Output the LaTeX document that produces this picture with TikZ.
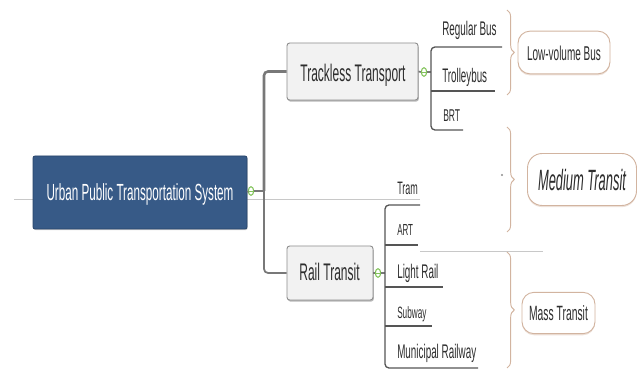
\documentclass[tikz,border=0pt]{standalone}
\usepackage{fontspec}
\setmainfont{Liberation Sans}
\newfontfamily\narrowfont[FakeStretch=0.5]{Liberation Sans}
\newfontfamily\narrowerfont[FakeStretch=0.44]{Liberation Sans}
\usetikzlibrary{decorations.pathreplacing,shadows,shapes.geometric}

\definecolor{rootblue}{RGB}{55,90,135}
\definecolor{rootedge}{RGB}{40,68,105}
\definecolor{topicfill}{RGB}{242,242,242}
\definecolor{topicedge}{RGB}{140,140,140}
\definecolor{linegray}{RGB}{120,120,120}
\definecolor{childline}{RGB}{85,85,85}
\definecolor{faintline}{RGB}{200,200,200}
\definecolor{tan}{RGB}{210,180,160}
\definecolor{togglegreen}{RGB}{130,195,90}
\definecolor{textgray}{RGB}{45,45,45}

\tikzset{
  rootbox/.style={draw=rootedge, fill=rootblue, rounded corners=1.5pt, line width=0.6pt,
    minimum width=160.5pt, minimum height=54.75pt, inner sep=0pt,
    drop shadow={shadow xshift=0.5pt, shadow yshift=-0.8pt, fill=black!40}},
  topicbox/.style={draw=topicedge, fill=topicfill, rounded corners=2pt, line width=0.7pt,
    inner sep=0pt, drop shadow={shadow xshift=0.6pt, shadow yshift=-1.2pt, fill=black!55}},
  sumbox/.style={draw=tan, fill=white, rounded corners=9pt, line width=0.7pt, inner sep=0pt,
    drop shadow={shadow xshift=0pt, shadow yshift=-1.2pt, fill=tan!80}},
  toggle/.style={ellipse, draw=togglegreen, fill=white, line width=0.8pt,
    minimum width=4pt, minimum height=6.5pt, inner sep=0pt,
    path picture={\draw[togglegreen, line width=0.6pt]
      ([xshift=-2pt]path picture bounding box.center) -- ([xshift=2pt]path picture bounding box.center);}},
  conn/.style={draw=linegray, line width=1.3pt, rounded corners=3pt},
  childul/.style={draw=childline, line width=1pt, rounded corners=3pt},
  faint/.style={draw=faintline, line width=0.6pt},
  sumbrace/.style={draw=tan, line width=0.7pt, decorate,
    decoration={brace, amplitude=5.5pt}},
  lbl/.style={inner sep=0pt, anchor=base west, text=textgray, font=\narrowfont},
}

\begin{document}
\begin{tikzpicture}[x=0.75pt, y=-0.75pt]
\useasboundingbox (0,0) rectangle (637,370);

% thin guide lines that run behind the map
\coordinate (guideL) at (14,199);
\coordinate (guideR) at (420,199);
\draw[faint] (guideL) -- (guideR);
\coordinate (massL) at (420,251);
\coordinate (massR) at (543,251);
\draw[faint] (massL) -- (massR);

% central topic
\node[rootbox] (root) at (140,192.5) {};
\node[inner sep=0pt, anchor=base, text=white, font=\narrowfont\fontsize{17.5}{20}\selectfont]
  (rootlbl) at (140,200.5) {Urban Public Transportation System};
\node[toggle] (rtog) at (251,191) {};
\draw[conn] (root.east) -- (rtog.west);

% main branches
\node[topicbox, minimum width=98.25pt, minimum height=42.75pt] (trackless) at (352.5,71.5) {};
\node[inner sep=0pt, anchor=base, text=textgray, font=\narrowfont\fontsize{18}{21}\selectfont]
  (tracklesslbl) at (353,81.5) {Trackless Transport};
\node[topicbox, minimum width=64.5pt, minimum height=40.5pt] (rail) at (330,273) {};
\node[inner sep=0pt, anchor=base, text=textgray, font=\narrowfont\fontsize{18}{21}\selectfont]
  (raillbl) at (329.5,280.5) {Rail Transit};

\coordinate (trunk) at (264,191);
\draw[conn] (rtog.east) -- (trunk);
\draw[conn, line width=1.9pt] (trunk) |- (trackless.west);
\draw[conn] (trunk) |- (rail.west);

% trackless transport children
\node[toggle] (ttog) at (424,72) {};
\draw[conn] (trackless.east) -- (ttog.west);
\coordinate (tjoin) at (431,72);
\draw[conn] (ttog.east) -- (tjoin);

\coordinate (regR) at (502,47);
\coordinate (regL) at (431,47);
\coordinate (brtL) at (431,130);
\coordinate (brtR) at (463,130);
\draw[childul] (regR) -- (regL) -- (brtL) -- (brtR);
\coordinate (trolL) at (431,91);
\coordinate (trolR) at (495,91);
\draw[childul] (trolL) -- (trolR);

\node[lbl, font=\narrowfont\fontsize{14.8}{17}\selectfont] (regular) at (442,36) {Regular Bus};
\node[lbl, font=\narrowfont\fontsize{14.7}{17}\selectfont] (trolley) at (442,83) {Trolleybus};
\node[lbl, font=\narrowfont\fontsize{12.8}{15}\selectfont] (brt) at (443,121.5) {BRT};

% rail transit children
\node[toggle] (ratog) at (378,273) {};
\draw[conn] (rail.east) -- (ratog.west);
\coordinate (rjoin) at (385,273);
\draw[conn] (ratog.east) -- (rjoin);

\coordinate (tramR) at (420,205);
\coordinate (tramL) at (385,205);
\coordinate (munL) at (385,368);
\coordinate (munR) at (478,368);
\draw[childul] (tramR) -- (tramL) -- (munL) -- (munR);
\coordinate (artL) at (385,245);
\coordinate (artR) at (418,245);
\draw[childul] (artL) -- (artR);
\coordinate (lrL) at (385,287);
\coordinate (lrR) at (443,287);
\draw[childul] (lrL) -- (lrR);
\coordinate (subL) at (385,326);
\coordinate (subR) at (432,326);
\draw[childul] (subL) -- (subR);

\node[lbl, font=\narrowfont\fontsize{13.5}{16}\selectfont] (tram) at (397,195) {Tram};
\node[lbl, font=\narrowfont\fontsize{12}{14}\selectfont] (art) at (397,235.5) {ART};
\node[lbl, font=\narrowfont\fontsize{14.8}{17}\selectfont] (light) at (397,278.5) {Light Rail};
\node[lbl, font=\narrowfont\fontsize{12.3}{15}\selectfont] (subway) at (397,319) {Subway};
\node[lbl, font=\narrowfont\fontsize{14.8}{17}\selectfont] (municipal) at (397,358.5) {Municipal Railway};

% summaries
\coordinate (lvtop) at (507,10);
\coordinate (lvbot) at (507,95);
\draw[sumbrace] (lvtop) -- (lvbot);
\node[sumbox, minimum width=69pt, minimum height=32pt] (lowvol) at (564,52.5) {};
\node[inner sep=0pt, anchor=base, text=textgray, font=\narrowfont\fontsize{15}{18}\selectfont]
  (lowvollbl) at (564,60.5) {Low-volume Bus};

\coordinate (medtop) at (507,127);
\coordinate (medbot) at (507,232);
\draw[sumbrace] (medtop) -- (medbot);
\node[sumbox, minimum width=81.75pt, minimum height=39pt, rounded corners=11pt] (medium) at (582,179.5) {};
\node[inner sep=0pt, anchor=base, text=textgray, font=\narrowerfont\itshape\fontsize{22}{26}\selectfont]
  (mediumlbl) at (582,190.5) {Medium Transit};
\fill[black!45] (502,175) circle (0.9pt);

\coordinate (masstop) at (507,252);
\coordinate (massbot) at (507,368);
\draw[sumbrace] (masstop) -- (massbot);
\node[sumbox, minimum width=54.75pt, minimum height=31pt] (mass) at (558.5,313) {};
\node[inner sep=0pt, anchor=base, text=textgray, font=\narrowfont\fontsize{15.5}{18}\selectfont]
  (masslbl) at (558.5,320.5) {Mass Transit};
\end{tikzpicture}
\end{document}
